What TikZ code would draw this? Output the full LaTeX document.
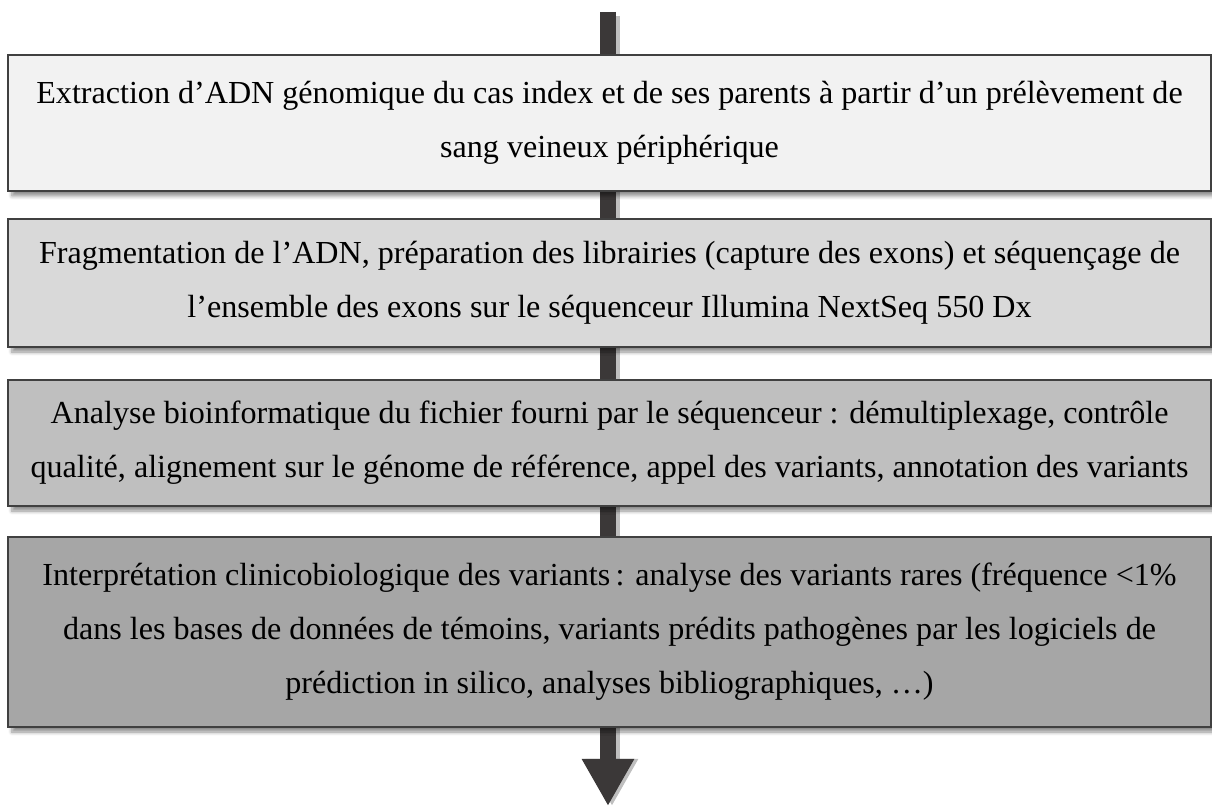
\documentclass[tikz,border=0pt]{standalone}
\usepackage{fontspec}
\setmainfont{Liberation Serif}
\usetikzlibrary{arrows.meta,shadows.blur}
\definecolor{boxline}{HTML}{404040}
\definecolor{arrowcol}{HTML}{3B3838}
\definecolor{fillA}{HTML}{F2F2F2}
\definecolor{fillB}{HTML}{D9D9D9}
\definecolor{fillC}{HTML}{BFBFBF}
\definecolor{fillD}{HTML}{A6A6A6}
\tikzset{
  stepbox/.style={draw=boxline, line width=1.2pt, rectangle, align=center,
    minimum width=601.5pt, inner sep=0pt,
    font=\fontsize{16.05}{27}\selectfont,
    blur shadow={shadow xshift=2pt, shadow yshift=-2.5pt, shadow blur steps=6, shadow opacity=45}},
  flowarrow/.style={draw=arrowcol, line width=8pt,
    -{Triangle[width=24.5pt,length=23.5pt]}},
  flowshadow/.style={draw=black, opacity=0.25, line width=8pt,
    -{Triangle[width=24.5pt,length=23.5pt]}}
}
\begin{document}
\begin{tikzpicture}[x=0.5pt,y=-0.5pt]
\useasboundingbox (0,0) rectangle (1212,807);
\coordinate (atop) at (608,12);
\coordinate (abot) at (608,806);
\coordinate (stop) at (612,16);
\coordinate (sbot) at (612,806);
\draw[flowshadow] (stop) -- (sbot);
\draw[flowarrow] (atop) -- (abot);
\node[stepbox, fill=fillA, minimum height=68pt] (b1) at (609.5,123)
  {Extraction d’ADN génomique du cas index et de ses parents à partir d’un prélèvement de\\
   sang veineux périphérique};
\node[stepbox, fill=fillB, minimum height=64pt] (b2) at (609.5,283)
  {Fragmentation de l’ADN, préparation des librairies (capture des exons) et séquençage de\\
   l’ensemble des exons sur le séquenceur Illumina NextSeq 550 Dx};
\node[stepbox, fill=fillC, minimum height=63pt] (b3) at (609.5,443)
  {Analyse bioinformatique du fichier fourni par le séquenceur : démultiplexage, contrôle\\
   qualité, alignement sur le génome de référence, appel des variants, annotation des variants};
\node[stepbox, fill=fillD, minimum height=95pt] (b4) at (609.5,632)
  {Interprétation clinicobiologique des variants\,: analyse des variants rares (fréquence <1\%\\
   dans les bases de données de témoins, variants prédits pathogènes par les logiciels de\\
   prédiction in silico, analyses bibliographiques, …)};
\end{tikzpicture}
\end{document}
